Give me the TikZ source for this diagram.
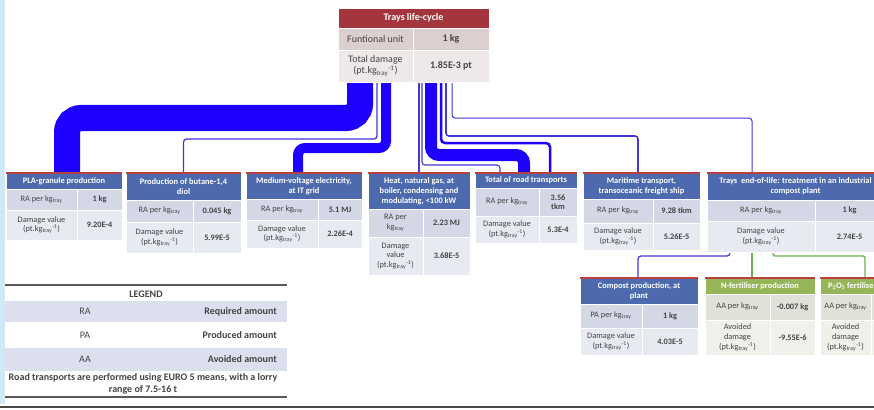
\documentclass[tikz,border=0pt]{standalone}
\usepackage{fontspec}
\setmainfont{Carlito}
\pgfdeclarelayer{back}
\pgfdeclarelayer{bg}
\pgfsetlayers{back,bg,main}

\definecolor{titlered}{HTML}{A4353C}
\definecolor{toprowA}{HTML}{DCCFD0}
\definecolor{toprowB}{HTML}{EEE8E8}
\definecolor{hdrblue}{HTML}{4D6AAE}
\definecolor{rowA}{HTML}{D4D8E6}
\definecolor{rowB}{HTML}{E8EAF2}
\definecolor{hdrgreen}{HTML}{95B558}
\definecolor{grnA}{HTML}{DFE2D8}
\definecolor{grnB}{HTML}{EEF0EA}
\definecolor{edgered}{HTML}{B8403E}
\definecolor{flow}{HTML}{1E00FF}
\definecolor{flowthin}{HTML}{4236DC}
\definecolor{flowgreen}{HTML}{6BB24E}
\definecolor{txt}{HTML}{444444}
\definecolor{legA}{HTML}{DCE0EE}
\definecolor{sidebar}{HTML}{CFEAF6}
\definecolor{rule}{HTML}{5A5A5A}

\newcommand\kgt{kg\textsubscript{tray}}
\newcommand\dmgu{(pt.kg\textsubscript{tray}\textsuperscript{-1})}

% process box: name, x-left, x-divider, x-right, y-top, y-header-end, y-row1-end, y-row2-end, title
\newcommand\pbox[9]{%
  \def\bxl{#2}\def\bxd{#3}\def\bxr{#4}\def\byh{#6}\def\byo{#7}\def\byt{#8}%
  \node[hdr, minimum width={(#4-#2)*1pt}, minimum height={(#6-#5)*1pt}]
    (#1) at ({(#2+#4)/2},{(#5+#6)/2}) {#9};
  \draw[edge] (#2,#5) -- (#4,#5);
}
% the two data rows of the last box: name, row1 label, row1 value, row2 label, row2 value
\newcommand\prows[5]{%
  \node[cell, rowAst, minimum width={(\bxd-\bxl)*1pt}, minimum height={(\byo-\byh)*1pt}]
    (#1-al) at ({(\bxl+\bxd)/2},{(\byh+\byo)/2}) {#2};
  \node[cell, rowAst, valfont, minimum width={(\bxr-\bxd)*1pt}, minimum height={(\byo-\byh)*1pt}]
    (#1-av) at ({(\bxd+\bxr)/2},{(\byh+\byo)/2}) {#3};
  \node[cell, rowBst, minimum width={(\bxd-\bxl)*1pt}, minimum height={(\byt-\byo)*1pt}]
    (#1-dl) at ({(\bxl+\bxd)/2},{(\byo+\byt)/2}) {#4};
  \node[cell, rowBst, valfont, minimum width={(\bxr-\bxd)*1pt}, minimum height={(\byt-\byo)*1pt}]
    (#1-dv) at ({(\bxd+\bxr)/2},{(\byo+\byt)/2}) {#5};
}

\begin{document}
\begin{tikzpicture}[x=1pt, y=-1pt,
  cell/.style={inner sep=0pt, outer sep=0pt, draw=white, line width=0.8pt, align=center,
    text=txt, font=\fontsize{8.3}{9.6}\selectfont},
  valfont/.style={font=\fontsize{8.3}{9.6}\selectfont\bfseries},
  hdr/.style={cell, fill=hdrblue, text=white, font=\fontsize{8.4}{9.9}\selectfont\bfseries},
  rowAst/.style={fill=rowA},
  rowBst/.style={fill=rowB},
  edge/.style={draw=edgered, line width=1.3pt},
  topcell/.style={inner sep=0pt, outer sep=0pt, draw=white, line width=0.8pt, align=center,
    text=txt, font=\fontsize{10}{11.5}\selectfont},
  flowline/.style={draw=flow, rounded corners=6pt},
  thinflow/.style={draw=flowthin, line width=1.3pt, rounded corners=3pt},
  greenflow/.style={draw=flowgreen, line width=1.3pt, rounded corners=2pt},
  legtext/.style={inner sep=0pt, text=txt, font=\fontsize{10}{11.5}\selectfont},
  legbold/.style={legtext, font=\fontsize{10}{11.5}\selectfont\bfseries},
  legrow/.style={fill=legA, inner sep=0pt, minimum width=282pt},
  legrule/.style={draw=rule, line width=1.2pt}
]
\useasboundingbox (0,0) rectangle (874,409);
\begin{pgfonlayer}{back}
\fill[white] (0,0) rectangle (874,409);
\fill[sidebar] (0,0) rectangle (5,404);
\draw[draw=rule!80!black, line width=2.5pt] (0,407) -- (874,407);
\end{pgfonlayer}

% ---- top table
\node[topcell, fill=titlered, text=white, font=\fontsize{10}{11.5}\selectfont\bfseries,
  minimum width=151pt, minimum height=20pt] (ttl) at (413.5,18) {Trays life-cycle};
\node[topcell, fill=toprowA, minimum width=75pt, minimum height=22pt] (fu-l) at (375.5,39) {Funtional unit};
\node[topcell, fill=toprowA, font=\fontsize{10}{11.5}\selectfont\bfseries,
  minimum width=76pt, minimum height=22pt] (fu-v) at (451,39) {1 kg};
\node[topcell, fill=toprowB, minimum width=75pt, minimum height=32pt] (td-l) at (375.5,66) {Total damage\\\dmgu};
\node[topcell, fill=toprowB, font=\fontsize{10}{11.5}\selectfont\bfseries,
  minimum width=76pt, minimum height=32pt] (td-v) at (451,66) {1.85E-3 pt};

% ---- first row of processes
\pbox{pla}{6}{77}{122}{173}{189}{210}{240}{PLA-granule production}
\prows{pla}{RA per \kgt}{1 kg}{Damage value\\\dmgu}{9.20E-4}

\pbox{but}{126}{193}{241}{173}{200}{222}{253}{Production of butane-1,4\\diol}
\prows{but}{RA per \kgt}{0.045 kg}{Damage value\\\dmgu}{5.99E-5}

\pbox{mv}{246}{318}{362}{173}{199}{220}{248}{Medium-voltage electricity,\\at IT grid}
\prows{mv}{RA per \kgt}{5.1 MJ}{Damage value\\\dmgu}{2.26E-4}

\pbox{heat}{368}{423}{470}{173}{209}{237}{275}{Heat, natural gas, at\\boiler, condensing and\\modulating, <100 kW}
\prows{heat}{RA per\\\kgt}{2.23 MJ}{Damage\\value\\\dmgu}{3.68E-5}

\pbox{road}{475}{539}{577}{173}{188}{216}{243}{Total of road transports}
\prows{road}{RA per \kgt}{3.56\\tkm}{Damage value\\\dmgu}{5.3E-4}

\pbox{mar}{583}{653}{700}{173}{199}{223}{250}{Maritime transport,\\transoceanic freight ship}
\prows{mar}{RA per \kgt}{9.28 tkm}{Damage value\\\dmgu}{5.26E-5}

\pbox{eol}{707}{815}{884}{173}{200}{221}{252}{Trays\ \ end-of-life: treatment in an industrial\\compost plant}
\prows{eol}{RA per \kgt}{1 kg}{Damage value\\\dmgu}{2.74E-5}

% ---- second row: end-of-life products
\pbox{comp}{580}{642}{698}{278}{304}{328}{355}{Compost production, at\\plant}
\prows{comp}{PA per \kgt}{1 kg}{Damage value\\\dmgu}{4.03E-5}

\begin{scope}[hdr/.append style={fill=hdrgreen},
  rowAst/.style={fill=grnA}, rowBst/.style={fill=grnB}]
\pbox{nf}{705}{770}{815}{278}{294}{320}{355}{N-fertiliser production}
\prows{nf}{AA per \kgt}{-0.007 kg}{Avoided\\damage\\\dmgu}{-9.55E-6}
\pbox{pf}{820}{871}{925}{278}{294}{320}{355}{P\textsubscript{2}O\textsubscript{5} fertiliser production}
\prows{pf}{AA per \kgt}{}{Avoided\\damage\\\dmgu}{}
\end{scope}

% ---- flows from the life-cycle total to each process
\begin{pgfonlayer}{bg}
\draw[flowline, line width=26pt, rounded corners=14pt]
  ([xshift=-15.5pt]td-l.south) -- ++(0,36) -| ([xshift=3pt]pla.north);
\draw[thinflow] ([xshift=1.5pt]td-l.south) -- ++(0,57) -| (but.north);
\draw[flowline, line width=10pt, rounded corners=7pt]
  ([xshift=10.5pt]td-l.south) -- ++(0,66) -| ([xshift=-6pt]mv.north);
\draw[thinflow, line width=1.1pt] (heat.north |- td-l.south) -- (heat.north);
\draw[thinflow, line width=1.1pt] ([xshift=-29pt]td-v.south) -- ++(0,83) -| ([xshift=-26pt]road.north);
\draw[flowline, line width=12pt, rounded corners=8pt]
  ([xshift=-20pt]td-v.south) -- ++(0,73) -| ([xshift=-2pt]road.north);
\draw[flowline, line width=2.5pt, rounded corners=4pt]
  ([xshift=-10pt]td-v.south) -- ++(0,61) -| ([xshift=24pt]road.north);
\draw[thinflow, line width=1.6pt] ([xshift=-5pt]td-v.south) -- ++(0,54) -| ([xshift=-3.5pt]mar.north);
\draw[thinflow, line width=1pt] ([xshift=1pt]td-v.south) -- ++(0,36) -| ([xshift=-43.5pt]eol.north);
% end-of-life outputs
\draw[thinflow, line width=1.2pt] ([xshift=-31pt]eol-dl.south) -- ++(0,4) -| ([xshift=-1pt]comp.north);
\draw[greenflow] ([xshift=-8pt]nf.north |- eol-dl.south) -- ([xshift=-8pt]nf.north);
\draw[greenflow] ([xshift=12pt]eol-dl.south) -- ++(0,4) -| ([xshift=-7.5pt]pf.north);
\end{pgfonlayer}

% ---- legend
\draw[legrule] (5,285) -- (287,285);
\node[legbold] (leg-t) at (146,294) {LEGEND};
\node[legrow, minimum height=21pt] (leg-ra) at (146,311.5) {};
\node[legrow, minimum height=23pt] (leg-aa) at (146,359) {};
\node[legtext] (leg-ra-k) at (85,311.5) {RA};
\node[legbold, anchor=east] (leg-ra-v) at (277,311.5) {Required amount};
\node[legtext] (leg-pa-k) at (85,335) {PA};
\node[legbold, anchor=east] (leg-pa-v) at (277,335) {Produced amount};
\node[legtext] (leg-aa-k) at (85,359) {AA};
\node[legbold, anchor=east] (leg-aa-v) at (277,359) {Avoided amount};
\node[legbold, align=center] (leg-note) at (143,384)
  {Road transports are performed using EURO 5 means, with a lorry\\range of 7.5-16 t};
\draw[legrule] (5,397) -- (287,397);
\end{tikzpicture}
\end{document}
